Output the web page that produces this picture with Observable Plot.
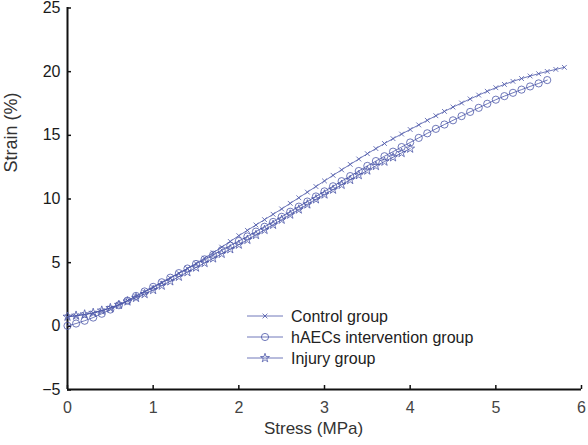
<!DOCTYPE html>
<html>
<head>
<meta charset="utf-8">
<script src="https://cdn.jsdelivr.net/npm/d3@7"></script>
<script src="https://cdn.jsdelivr.net/npm/@observablehq/plot@0.6"></script>
<style>
  html, body { margin: 0; padding: 0; background: #fff; }
  #wrap { position: relative; width: 588px; height: 445px; font-family: "Liberation Sans", Arial, sans-serif; }
  #legend { position: absolute; left: 0; top: 0; }
</style>
</head>
<body>
<div id="wrap"><div id="chart"></div><svg id="legend" width="588" height="445"></svg></div>
<script>
// Stress (MPa) sample positions
const stress = [0.0,0.1,0.2,0.3,0.4,0.5,0.6,0.7,0.8,0.9,1.0,1.1,1.2,1.3,1.4,1.5,1.6,1.7,1.8,1.9,
  2.0,2.1,2.2,2.3,2.4,2.5,2.6,2.7,2.8,2.9,3.0,3.1,3.2,3.3,3.4,3.5,3.6,3.7,3.8,3.9,
  4.0,4.1,4.2,4.3,4.4,4.5,4.6,4.7,4.8,4.9,5.0,5.1,5.2,5.3,5.4,5.5,5.6,5.7,5.8];

// Strain (%) per group
const controlStrain = [0.70,0.78,0.88,1.00,1.18,1.40,1.68,1.98,2.30,2.65,3.00,3.37,3.74,4.12,4.50,4.90,5.32,5.74,6.18,6.63,
  7.08,7.50,7.92,8.34,8.76,9.18,9.62,10.06,10.50,10.94,11.38,11.82,12.25,12.68,13.10,13.52,13.92,14.32,14.70,15.06,
  15.42,15.78,16.14,16.50,16.84,17.18,17.50,17.82,18.12,18.42,18.70,18.96,19.20,19.42,19.62,19.80,19.98,20.14,20.30];
const haecsStrain = [0.00,0.18,0.40,0.65,0.95,1.28,1.62,1.98,2.35,2.70,3.06,3.42,3.78,4.14,4.50,4.86,5.22,5.58,5.94,6.30,
  6.66,7.02,7.40,7.78,8.16,8.56,8.96,9.36,9.76,10.16,10.56,10.96,11.36,11.76,12.16,12.56,12.94,13.32,13.68,14.04,
  14.40,14.76,15.12,15.47,15.81,16.14,16.47,16.80,17.12,17.44,17.76,18.04,18.30,18.55,18.80,19.04,19.30];
const injuryStrain = [0.72,0.80,0.90,1.02,1.20,1.40,1.65,1.92,2.20,2.50,2.82,3.16,3.50,3.86,4.22,4.58,4.94,5.30,5.66,6.02,
  6.38,6.76,7.14,7.54,7.94,8.34,8.74,9.14,9.54,9.94,10.32,10.70,11.08,11.46,11.84,12.20,12.56,12.90,13.24,13.58,13.92];

const groups = ["Control group", "hAECs intervention group", "Injury group"];
const symbols = ["times", "circle", "star"];
const xTicks = [0,1,2,3,4,5,6];
const yTicks = [-5,0,5,10,15,20,25];

const color = "#4b57a8";
const sizes = [2.3, 3.6, 2.8];
const strains = [controlStrain, haecsStrain, injuryStrain];
const rows = [];
strains.forEach((arr, gi) => arr.forEach((v, i) => rows.push({group: groups[gi], x: stress[i], y: v})));

const chart = Plot.plot({
  width: 588, height: 445,
  marginLeft: 67, marginRight: 7, marginTop: 7, marginBottom: 56,
  style: {fontFamily: "Liberation Sans, Arial, sans-serif", background: "#fff"},
  x: {domain: [0, 6]},
  y: {domain: [-5, 25]},
  symbol: {domain: groups, range: symbols},
  marks: [
    Plot.axisY({ticks: yTicks, tickSize: -4, tickPadding: 11, fontSize: 16, dy: 0.5, tickFormat: d => d < 0 ? "\u2212" + Math.abs(d) : String(d), label: null, color: "#1a1a1a", stroke: "#111", strokeWidth: 1.5}),
    Plot.axisX({ticks: xTicks, tickSize: -4, tickPadding: 16, fontSize: 16, tickFormat: d => String(d), label: null, color: "#444", stroke: "#111", strokeWidth: 1.5}),
    Plot.ruleX([0], {stroke: "#111", strokeWidth: 2}),
    Plot.ruleY([-5], {stroke: "#111", strokeWidth: 2}),
    Plot.line(rows, {x: "x", y: "y", z: "group", stroke: color, strokeWidth: 0.8}),
    ...groups.map((g, i) => Plot.dot(rows.filter(d => d.group === g), {x: "x", y: "y", symbol: "group", r: sizes[i], stroke: color, fill: "none", strokeWidth: 0.8})),
    Plot.text(["Strain (%)"], {frameAnchor: "left", dx: -56, dy: -26, rotate: -90, fontSize: 18, fill: "#333"}),
    Plot.text(["Stress (MPa)"], {frameAnchor: "bottom", dx: -11, dy: 44, fontSize: 17, fill: "#333"})
  ]
});
document.getElementById("chart").appendChild(chart);

// Legend
const lg = d3.select("#legend");
const symMap = {times: d3.symbolTimes, circle: d3.symbolCircle, star: d3.symbolStar};
groups.forEach((g, i) => {
  const y = 316 + i * 21;
  lg.append("line").attr("x1", 247).attr("x2", 283).attr("y1", y).attr("y2", y).attr("stroke", color).attr("stroke-width", 0.8);
  const r = sizes[i];
  lg.append("path").attr("transform", `translate(265,${y})`)
    .attr("d", d3.symbol(symMap[symbols[i]], Math.PI * r * r)())
    .attr("fill", "none").attr("stroke", color).attr("stroke-width", 0.8);
  lg.append("text").attr("x", 291).attr("y", y).attr("dy", "0.35em")
    .attr("font-size", 16).attr("fill", "#222").attr("font-family", "Liberation Sans, Arial, sans-serif").text(g);
});
</script>
</body>
</html>
